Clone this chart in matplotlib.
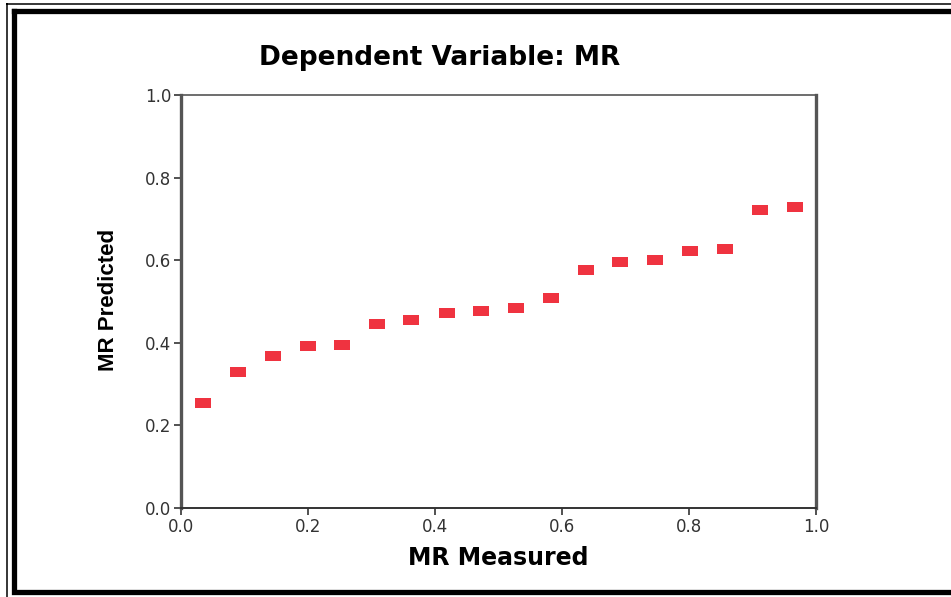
import matplotlib
matplotlib.use('Agg')
import matplotlib.pyplot as plt
from matplotlib.lines import Line2D
from matplotlib.transforms import IdentityTransform
import numpy as np

# values
mr_measured = [0.035, 0.090, 0.145, 0.200, 0.254, 0.309, 0.362, 0.419, 0.472,
               0.528, 0.583, 0.638, 0.691, 0.746, 0.802, 0.857, 0.912, 0.967]
mr_predicted = [0.254, 0.329, 0.368, 0.392, 0.395, 0.446, 0.455, 0.472, 0.477,
                0.484, 0.508, 0.576, 0.596, 0.600, 0.622, 0.627, 0.722, 0.729]
ticks = [0.0, 0.2, 0.4, 0.6, 0.8, 1.0]
tick_labels = ['0.0', '0.2', '0.4', '0.6', '0.8', '1.0']

W, H = 951, 597
fig = plt.figure(figsize=(W / 100, H / 100), dpi=100)
fig.patch.set_facecolor('white')

def px(x, y):
    # image pixels (top-left origin) -> display coords
    return x, H - y

# double frame around the whole picture
def frame(x0, y0, x1, y1, lw):
    xs = [x0, x1, x1, x0, x0]
    ys = [y0, y0, y1, y1, y0]
    pts = [px(a, b) for a, b in zip(xs, ys)]
    fig.add_artist(Line2D([p[0] for p in pts], [p[1] for p in pts],
                          transform=IdentityTransform(), color='black',
                          lw=lw, solid_joinstyle='miter'))

frame(7, 3.5, 960, 605, 1.1)
frame(13.5, 10.5, 960, 592, 3.8)

ax = fig.add_axes([181 / W, (H - 508) / H, 635 / W, 413 / H])

rect = [(-1, -0.6), (1, -0.6), (1, 0.6), (-1, 0.6), (-1, -0.6)]
ax.plot(mr_measured, mr_predicted, linestyle='none', marker=rect,
        markersize=11.5, markerfacecolor='#ef3340', markeredgewidth=0,
        clip_on=False)

ax.set_xlim(0, 1)
ax.set_ylim(0, 1)
ax.set_xticks(ticks)
ax.set_yticks(ticks)
ax.set_xticklabels(tick_labels)
ax.set_yticklabels(tick_labels)
ax.tick_params(direction='out', length=5, width=1.2, color='#333333',
               labelsize=12, labelcolor='#333333', pad=2)

for side, lw, col in [('left', 2.4, '#555555'), ('right', 2.4, '#555555'),
                      ('top', 1.2, '#555555'), ('bottom', 1.4, '#333333')]:
    ax.spines[side].set_linewidth(lw)
    ax.spines[side].set_color(col)

fig.text(440 / W, 1 - 58 / H, 'Dependent Variable: MR', ha='center',
         va='center', fontsize=19, fontweight='bold', family='DejaVu Sans')
fig.text(498 / W, 1 - 558 / H, 'MR Measured', ha='center', va='center',
         fontsize=17, fontweight='bold', family='DejaVu Sans')
fig.text(109 / W, 1 - 300 / H, 'MR Predicted', ha='center', va='center',
         rotation=90, fontsize=16, fontweight='bold', family='Liberation Sans')

fig.savefig('out.png', dpi=100)
